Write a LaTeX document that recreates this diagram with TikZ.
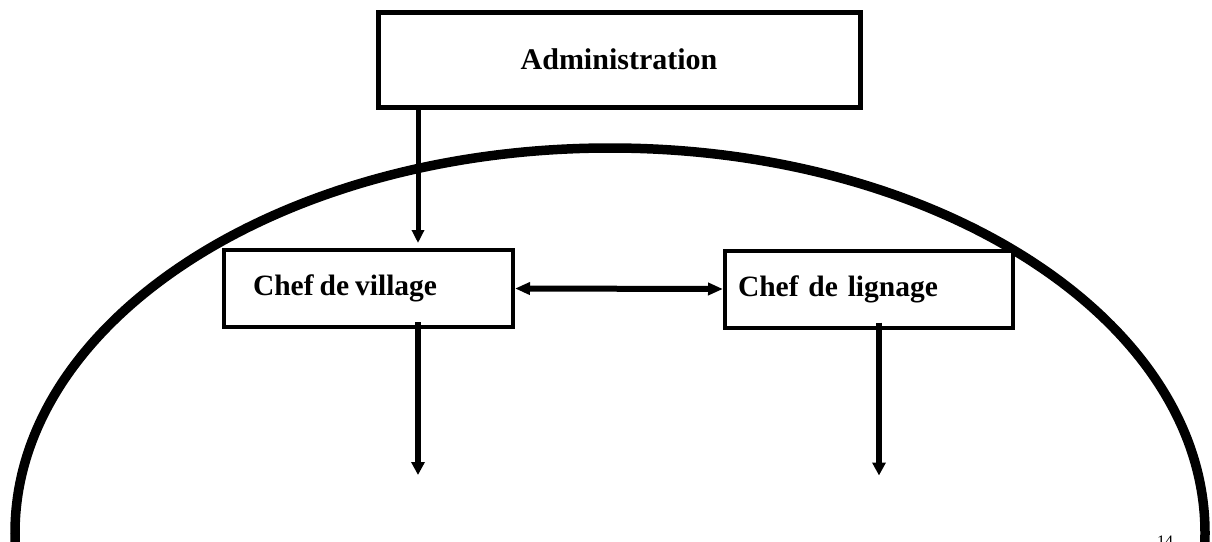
\documentclass[tikz,border=0pt]{standalone}
\usepackage{fontspec}
\setmainfont{Liberation Serif}
\usetikzlibrary{arrows.meta,calc}
\begin{document}
\begin{tikzpicture}[x=1pt,y=-1pt,
  box/.style={draw, fill=white, line width=4pt, inner ysep=0pt, minimum height=77pt,
    font=\bfseries\fontsize{29.5}{34}\selectfont},
  arr/.style={-{Triangle[length=13pt,width=12pt]}, line width=5pt},
  downarr/.style={-{Triangle[length=13pt,width=13pt]}, line width=6pt},
  bothways/.style={{Triangle[length=15pt,width=12pt]}-{Triangle[length=15pt,width=12pt]}, line width=6pt},
  ]
\useasboundingbox (0,0) rectangle (1212,541);
\clip (0,0) rectangle (1212,541);
% the community boundary
\draw[line width=9.5pt] (610,533) ellipse [x radius=595pt, y radius=385pt];
% boxes
\node[box, line width=5pt, minimum width=482pt, minimum height=95pt, align=center,
  font=\bfseries\fontsize{30}{36}\selectfont] (admin) at (619,59.5) {Administration};
\node[box, text width=231pt, inner xsep=29pt, align=left] (vil) at (368.5,288.5)
  {\spaceskip=6pt Chef de village};
\node[box, text width=262pt, inner xsep=13pt, align=left] (lig) at (869,289) {Chef de lignage};
% connectors
\coordinate (a1) at ($(admin.south)+(-201,0)$);
\draw[arr, shorten >=5pt] (a1) -- (a1 |- vil.north);
\draw[bothways] (vil.east) -- (lig.west);
\coordinate (v1) at ($(vil.south)+(49.5,-7)$);
\coordinate (v2) at ($(v1)+(0,153)$);
\draw[downarr] (v1) -- (v2);
\coordinate (l1) at ($(lig.south)+(10,-7)$);
\coordinate (l2) at ($(l1)+(0,153)$);
\draw[downarr] (l1) -- (l2);
% page number at the foot
\node[anchor=north west, inner sep=0pt, font=\fontsize{16}{19}\selectfont] (pg) at (1157,536) {14};
\end{tikzpicture}
\end{document}
